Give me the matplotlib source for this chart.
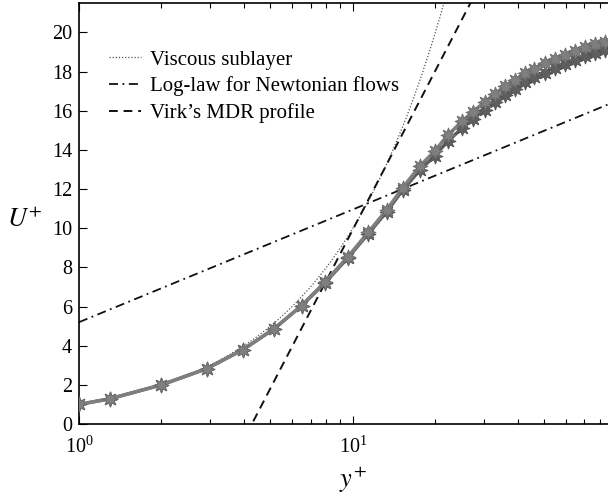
import numpy as np
import matplotlib
matplotlib.use("Agg")
import matplotlib.pyplot as plt

plt.rcParams['font.family'] = ['Liberation Serif', 'DejaVu Serif']
plt.rcParams['mathtext.fontset'] = 'stix'

# Data series
yplus_a = [1.0, 1.3, 2.0, 2.93, 3.97, 5.15, 6.5, 7.9, 9.6, 11.35, 13.3, 15.2, 17.5, 19.9,
           22.2, 25.0, 27.4, 30.3, 32.9, 35.8, 38.9, 42.3, 46.0, 50.1, 54.5, 59.3, 64.5,
           70.2, 76.4, 83.0, 90.0]
uplus_a = [1.0, 1.29, 2.0, 2.83, 3.8, 4.86, 6.05, 7.25, 8.55, 9.78, 10.95, 12.07, 13.15, 13.95,
           14.75, 15.45, 15.95, 16.45, 16.85, 17.25, 17.55, 17.9, 18.15, 18.45, 18.65, 18.85, 19.05,
           19.25, 19.4, 19.5, 19.6]
uplus_b = [1.0, 1.29, 2.0, 2.83, 3.8, 4.86, 6.05, 7.2, 8.5, 9.7, 10.85, 11.95, 12.95, 13.7,
           14.45, 15.1, 15.6, 16.05, 16.45, 16.8, 17.1, 17.45, 17.7, 17.95, 18.2, 18.4, 18.6,
           18.8, 18.95, 19.1, 19.2]

labels = ["Viscous sublayer", "Log-law for Newtonian flows", "Virk\u2019s MDR profile"]
loglaw_kappa_inv = 2.5
loglaw_B = 5.2
virk_A = 11.7
virk_B = -17.0

fig = plt.figure(figsize=(6.08, 4.98), dpi=100)
ax = fig.add_axes([0.130, 0.1486, 0.901, 0.8454])

yy = np.logspace(0, 2, 400)
ax.plot(yy, yy, linestyle=(0, (1, 1.5)), color='#555555', lw=0.9, label=labels[0], zorder=2)
ax.plot(yy, loglaw_kappa_inv * np.log(yy) + loglaw_B, linestyle=(0, (5, 2.5, 1, 2.5)),
        color='#111111', lw=1.3, label=labels[1], zorder=2)
ax.plot(yy, virk_A * np.log(yy) + virk_B, linestyle=(0, (4.5, 3)), color='#111111', lw=1.4,
        label=labels[2], zorder=2)

ax.plot(yplus_a, uplus_b, color='#5e5e5e', lw=2.5, marker=(8, 1, 0), ms=11,
        markerfacecolor='#5e5e5e', markeredgecolor='#505050', mew=0.6, zorder=3)
ax.plot(yplus_a, uplus_a, color='#7f7f7f', lw=2.5, marker=(8, 1, 0), ms=11,
        markerfacecolor='#7f7f7f', markeredgecolor='#6a6a6a', mew=0.6, zorder=4)

ax.set_xscale('log')
ax.set_xlim(1, 100)
ax.set_ylim(0, 21.5)
ax.set_yticks(np.arange(0, 21, 2))
ax.set_xticks([1, 10])
ax.tick_params(which='both', direction='in', top=True, right=False, labelsize=14.5)
ax.tick_params(which='major', length=6, width=0.8)
ax.tick_params(which='minor', length=3.5, width=0.8)
ax.tick_params(axis='x', pad=9)
ax.tick_params(axis='y', pad=5)
for s in ax.spines.values():
    s.set_linewidth(1.2)

ax.set_xlabel(r'$y^{+}$', fontsize=19, va='center')
ax.xaxis.set_label_coords(0.5, -0.133)
ax.set_ylabel(r'$U^{+}$', fontsize=19, rotation=0, va='center', ha='center')
ax.yaxis.set_label_coords(-0.099, 0.485)

leg = ax.legend(loc='upper left', bbox_to_anchor=(0.039, 0.908), frameon=False, fontsize=15,
                handlelength=1.55, handletextpad=0.45, labelspacing=0.33, borderaxespad=0)

fig.savefig('out.png', dpi=100)
